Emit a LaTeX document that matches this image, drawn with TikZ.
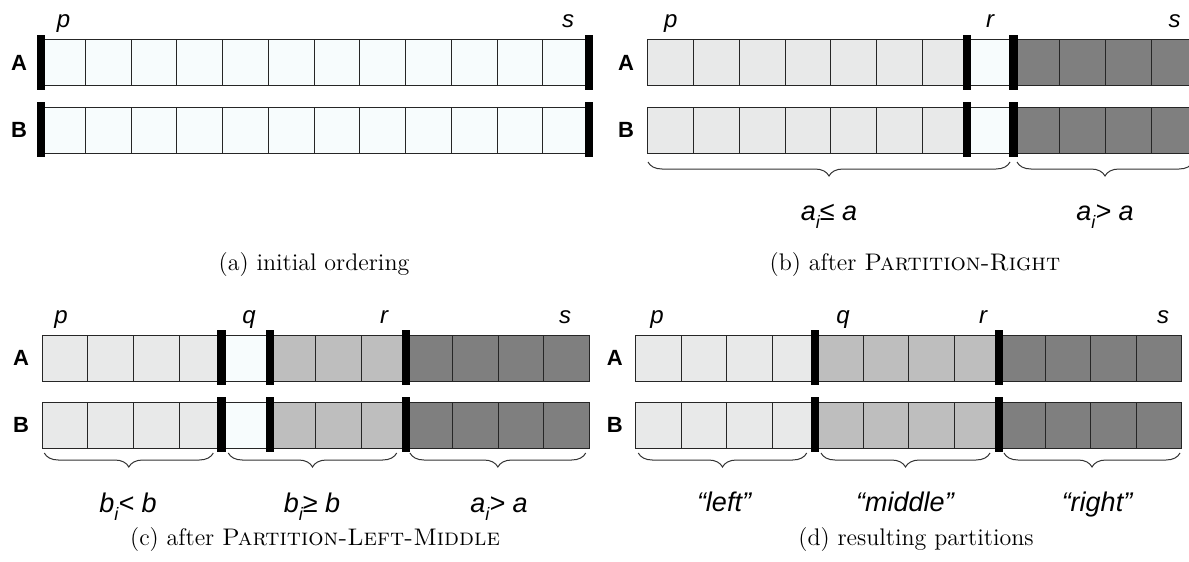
\documentclass[tikz,border=0pt]{standalone}
\usepackage{fontspec}
\newfontfamily\hv{Liberation Sans}
\usetikzlibrary{decorations.pathreplacing}
\definecolor{cW}{RGB}{247,252,253}
\definecolor{cL}{RGB}{232,233,233}
\definecolor{cM}{RGB}{190,190,190}
\definecolor{cD}{RGB}{127,127,127}
\newcommand\cellsrow[4]{%
  \foreach \cc [count=\k from 0] in {#4} {
    \filldraw[cellbox, fill=\cc] ({#1+\k*(#2)},#3) rectangle ({#1+(\k+1)*(#2)},{#3+46});
  }}
\newcommand\sepbar[2]{\fill[black] ({#1-4.2},{#2-5}) rectangle ({#1+4.2},{#2+50});}
\newcommand\isub[1]{\raisebox{-0.3em}{\fontsize{9}{9}\selectfont #1}}
\tikzset{
  cellbox/.style={draw=black!85, line width=0.5pt},
  rowlbl/.style={font=\hv\bfseries\fontsize{11}{12}\selectfont, inner sep=0pt},
  idxlbl/.style={font=\hv\itshape\fontsize{12}{13}\selectfont, inner sep=0pt, anchor=base},
  brlbl/.style={font=\hv\itshape\fontsize{13.5}{14}\selectfont, inner sep=0pt, anchor=base},
  caplbl/.style={font=\fontsize{12}{14}\selectfont, inner sep=0pt, anchor=base},
  bracestyle/.style={decorate, decoration={brace, amplitude=7pt}, line width=0.5pt, draw=black!80},
}
\begin{document}
\begin{tikzpicture}[x=0.5pt,y=-0.5pt]
\useasboundingbox (0,0) rectangle (1189,562);
% ---------- (a)
\cellsrow{39.6}{45.75}{39.5}{cW,cW,cW,cW,cW,cW,cW,cW,cW,cW,cW,cW}
\cellsrow{39.6}{45.75}{107}{cW,cW,cW,cW,cW,cW,cW,cW,cW,cW,cW,cW}
\sepbar{40.8}{39.5}\sepbar{589}{39.5}
\sepbar{40.8}{107}\sepbar{589}{107}
\node[rowlbl] (aA) at (19,62.5) {A};
\node[rowlbl] (aB) at (19,130) {B};
\node[idxlbl] (ap) at (63.5,27) {p};
\node[idxlbl] (as) at (568,27) {s};
\node[caplbl] (capa) at (314,270) {(a) initial ordering};
% ---------- (b)
\cellsrow{647.7}{45.8}{39.5}{cL,cL,cL,cL,cL,cL,cL,cW,cD,cD,cD,cD}
\cellsrow{647.7}{45.8}{107}{cL,cL,cL,cL,cL,cL,cL,cW,cD,cD,cD,cD}
\sepbar{967}{39.5}\sepbar{1013.5}{39.5}
\sepbar{967}{107}\sepbar{1013.5}{107}
\node[rowlbl] (bA) at (626,62.5) {A};
\node[rowlbl] (bB) at (626,130) {B};
\node[idxlbl] (bp) at (670.7,27) {p};
\node[idxlbl] (br) at (990,27) {r};
\node[idxlbl] (bs) at (1174.5,27) {s};
\coordinate (b1l) at (648,162); \coordinate (b1r) at (1010,162);
\coordinate (b2l) at (1017,162); \coordinate (b2r) at (1193,162);
\draw[bracestyle] (b1r) -- (b1l);
\draw[bracestyle] (b2r) -- (b2l);
\node[brlbl] (bl1) at (829,220) {a\isub{i}≤ a};
\node[brlbl] (bl2) at (1105,220) {a\isub{i}> a};
\node[caplbl] (capb) at (915,270) {(b) after \textsc{Partition-Right}};
% ---------- (c)
\cellsrow{42.3}{45.57}{335}{cL,cL,cL,cL,cW,cM,cM,cM,cD,cD,cD,cD}
\cellsrow{42.3}{45.57}{402.3}{cL,cL,cL,cL,cW,cM,cM,cM,cD,cD,cD,cD}
\sepbar{221.5}{335}\sepbar{269.8}{335}\sepbar{406.2}{335}
\sepbar{221.5}{402.3}\sepbar{269.8}{402.3}\sepbar{406.2}{402.3}
\node[rowlbl] (cA) at (21,358) {A};
\node[rowlbl] (cB) at (21,425.3) {B};
\node[idxlbl] (cp) at (61,323) {p};
\node[idxlbl] (cq) at (249,323) {q};
\node[idxlbl] (cr) at (384,323) {r};
\node[idxlbl] (cs) at (565,323) {s};
\coordinate (c1l) at (44.3,453); \coordinate (c1r) at (213.3,453);
\coordinate (c2l) at (228.3,453); \coordinate (c2r) at (396.7,453);
\coordinate (c3l) at (410,453); \coordinate (c3r) at (585.7,453);
\draw[bracestyle] (c1r) -- (c1l);
\draw[bracestyle] (c2r) -- (c2l);
\draw[bracestyle] (c3r) -- (c3l);
\node[brlbl] (cl1) at (128,512) {b\isub{i}< b};
\node[brlbl] (cl2) at (312,512) {b\isub{i}≥ b};
\node[brlbl] (cl3) at (499,512) {a\isub{i}> a};
\node[caplbl] (capc) at (315,545) {(c) after \textsc{Partition-Left-Middle}};
% ---------- (d)
\cellsrow{635.7}{45.5}{335}{cL,cL,cL,cL,cM,cM,cM,cM,cD,cD,cD,cD}
\cellsrow{635.7}{45.5}{402.3}{cL,cL,cL,cL,cM,cM,cM,cM,cD,cD,cD,cD}
\sepbar{815}{335}\sepbar{999.2}{335}
\sepbar{815}{402.3}\sepbar{999.2}{402.3}
\node[rowlbl] (dA) at (614.7,358) {A};
\node[rowlbl] (dB) at (614.7,425.3) {B};
\node[idxlbl] (dp) at (657,323) {p};
\node[idxlbl] (dq) at (843,323) {q};
\node[idxlbl] (dr) at (983,323) {r};
\node[idxlbl] (ds) at (1163,323) {s};
\coordinate (d1l) at (638.3,453); \coordinate (d1r) at (806.7,453);
\coordinate (d2l) at (821,453); \coordinate (d2r) at (990,453);
\coordinate (d3l) at (1004,453); \coordinate (d3r) at (1180,453);
\draw[bracestyle] (d1r) -- (d1l);
\draw[bracestyle] (d2r) -- (d2l);
\draw[bracestyle] (d3r) -- (d3l);
\node[brlbl] (dl1) at (724,511) {“left”};
\node[brlbl] (dl2) at (905,511) {“middle”};
\node[brlbl] (dl3) at (1097,511) {“right”};
\node[caplbl] (capd) at (916,545) {(d) resulting partitions};
\end{tikzpicture}
\end{document}
